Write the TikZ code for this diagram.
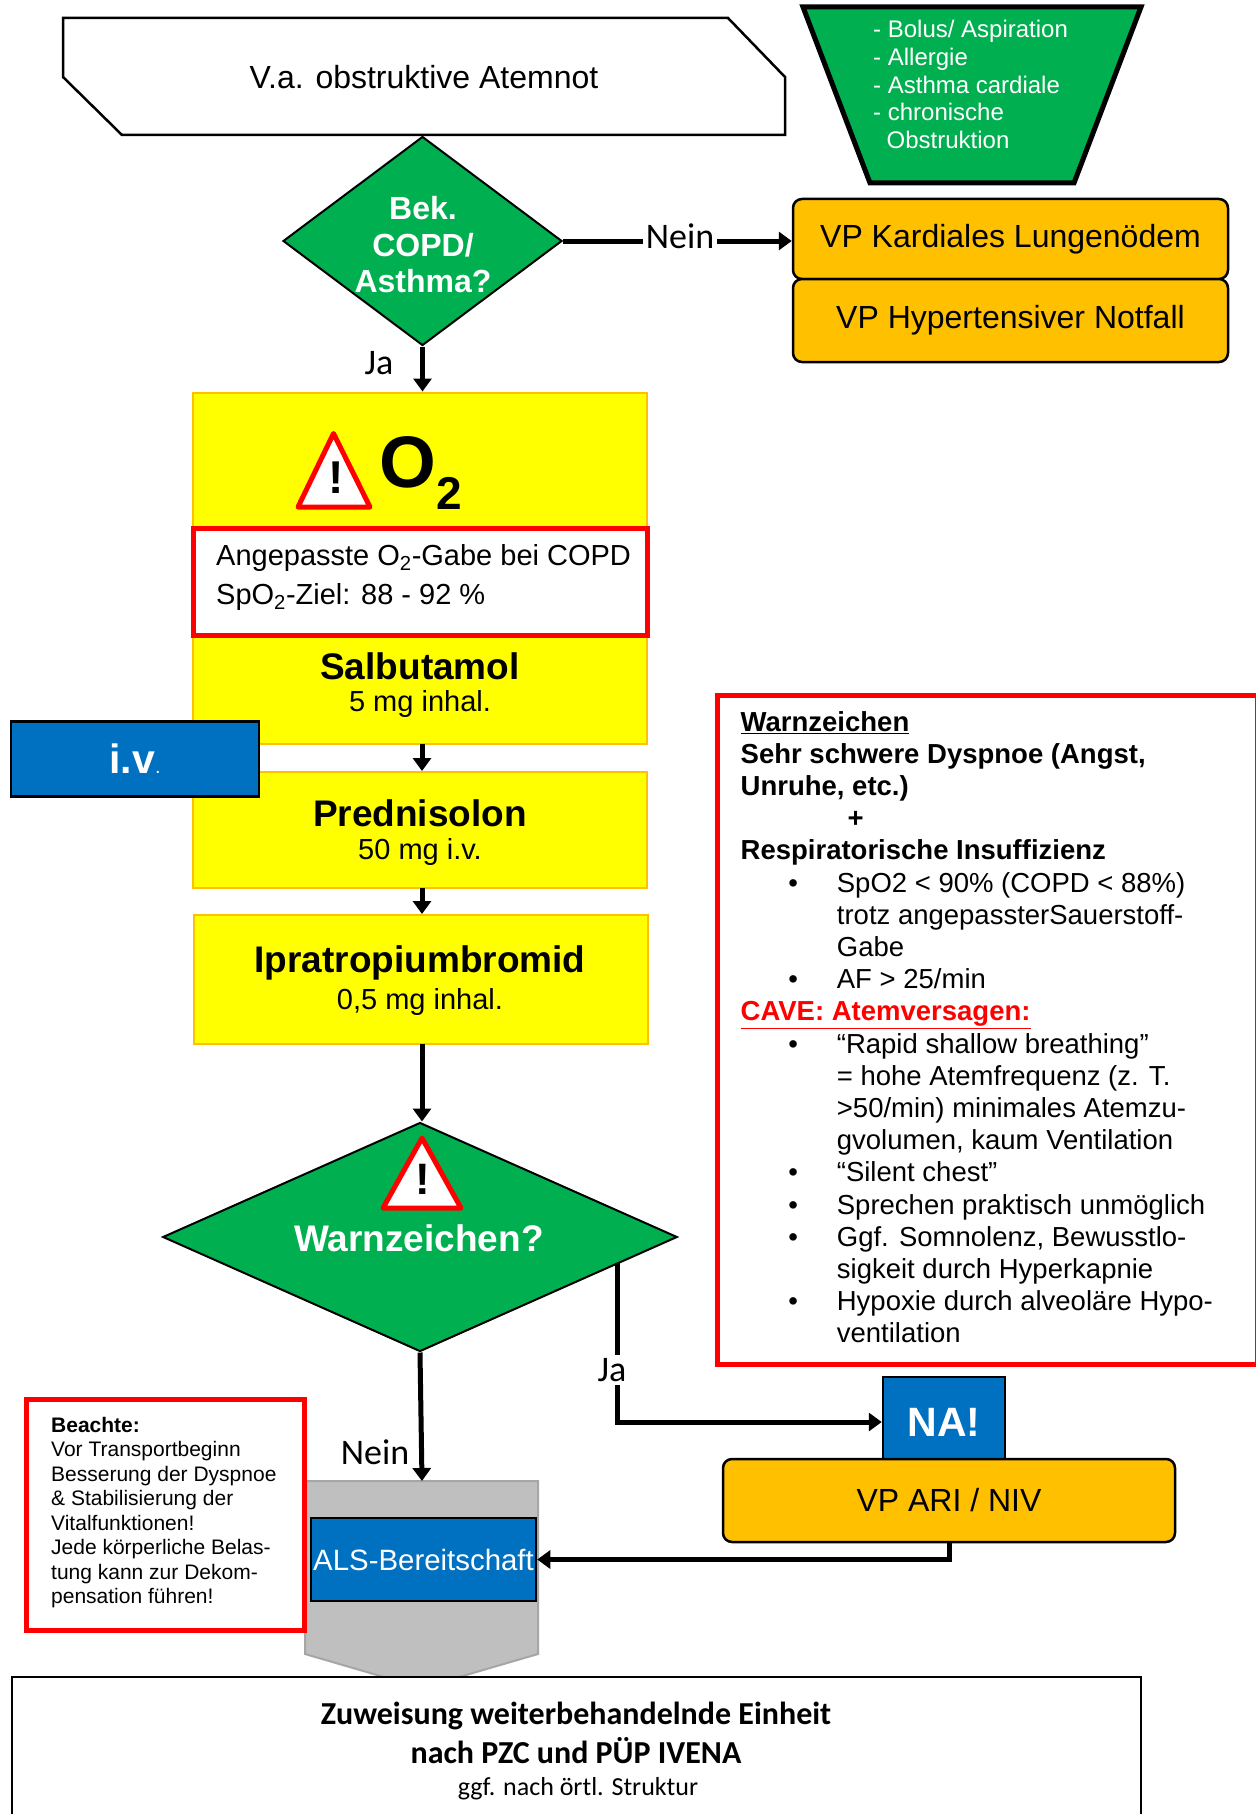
\documentclass[tikz,border=0pt]{standalone}
\usepackage{fontspec}
\setmainfont{Liberation Sans}
\newfontfamily\calfont{Carlito}
\usetikzlibrary{arrows.meta,shapes.geometric}
\definecolor{dgreen}{HTML}{00B050}
\definecolor{dorange}{HTML}{FFC000}
\definecolor{dyellow}{HTML}{FFFF00}
\definecolor{dblue}{HTML}{0070C0}
\definecolor{dred}{HTML}{FF0000}
\definecolor{dgrey}{HTML}{BFBFBF}
\definecolor{dgreyline}{HTML}{A6A6A6}
\newcommand{\pxfont}[2]{\fontsize{#1}{#2}\selectfont}
\newcommand{\wbul}{\hspace*{47.7pt}\makebox[48.5pt][l]{\textbullet}}
\newcommand{\wind}{\hspace*{96.2pt}}
\begin{document}
\begin{tikzpicture}[x=1pt,y=-1pt]
    \tikzstyle{every node}+=[inner sep=0pt]
    \tikzstyle{decision}=[diamond,draw=black,line width=2pt,fill=dgreen]
    \tikzstyle{vpbox}=[draw=black,line width=2.5pt,fill=dorange,rounded corners=9pt,font=\pxfont{32}{38}]
    \tikzstyle{drugbox}=[draw=dorange,line width=2pt,fill=dyellow]
    \tikzstyle{bluebox}=[draw=black,line width=2.5pt,fill=dblue,text=white]
    \tikzstyle{drugname}=[font=\bfseries\pxfont{37}{42}]
    \tikzstyle{drugdose}=[font=\pxfont{29}{34}]
    \tikzstyle{redbox}=[draw=dred,line width=5pt,fill=white]
    \tikzstyle{branchlabel}=[fill=white,font=\calfont\pxfont{36}{42},inner sep=3pt]
    \tikzstyle{flow}=[draw=black,line width=5pt,-{Triangle[length=13pt,width=18pt]}]
    \tikzstyle{warnsign}=[draw=dred,fill=white,line width=5pt,line join=round]
    \useasboundingbox (0,0) rectangle (1255,1814);
    \draw [black,line width=2.5pt,fill=white] (63,18) -- (728,18) -- (785,77) -- (785,135) -- (122,135) -- (63,77) -- cycle;
    \node [font=\pxfont{32}{38}] (atemnot) at (424,77) {V.a. obstruktive Atemnot};
    \draw [black,line width=5pt,fill=dgreen] (803,7) -- (1141,7) -- (1074,183) -- (870,183) -- cycle;
    \node [anchor=north west,align=left,text=white,font=\pxfont{24}{27.8}] (diffdiag) at (873,20) {- Bolus/ Aspiration\\- Allergie\\- Asthma cardiale\\- chronische\\\hspace*{13.5pt}Obstruktion};
    \node [decision,minimum width=279pt,minimum height=209pt] (bek) at (422.5,241) {};
    \node [align=center,text=white,font=\bfseries\pxfont{32}{36.5}] (bektext) at (423,245) {Bek.\\COPD/\\Asthma?};
    \node [vpbox,minimum width=435pt,minimum height=80pt] (kardial) at (1010.5,239) {VP Kardiales Lungenödem};
    \node [vpbox,minimum width=435pt,minimum height=83pt] (hyper) at (1010.5,320.5) {VP Hypertensiver Notfall};
    \node [drugbox,minimum width=454pt,minimum height=351.5pt] (salb) at (420,568.25) {};
    \draw [warnsign] (298,507) -- (333.5,433.5) -- (370,507) -- cycle;
    \node [font=\bfseries\pxfont{46}{46}] (warnmarka) at (336,478) {!};
    \node [anchor=base west,font=\bfseries\pxfont{73}{73}] (oxy) at (379,487) {O};
    \node [anchor=base west,font=\bfseries\pxfont{46}{46}] (oxytwo) at (436,509) {2};
    \node [redbox,minimum width=454pt,minimum height=107pt] (ziel) at (420,581.5) {};
    \node [anchor=north west,align=left,font=\pxfont{29}{39}] (zieltext) at (216,544) {Angepasste O\textsubscript{2}-Gabe bei COPD\\SpO\textsubscript{2}-Ziel: 88 - 92 \%};
    \node [drugname] (salbname) at (420,666) {Salbutamol};
    \node [drugdose] (salbdose) at (420,704) {5 mg inhal.};
    \node [drugbox,minimum width=454pt,minimum height=116.5pt] (pred) at (420,829.75) {};
    \node [drugname] (predname) at (420,813) {Prednisolon};
    \node [drugdose] (preddose) at (420,852) {50 mg i.v.};
    \node [drugbox,minimum width=454pt,minimum height=129pt] (ipra) at (420.5,979.5) {};
    \node [drugname] (ipraname) at (420,962.5) {Ipratropiumbromid};
    \node [drugdose] (ipradose) at (420,1002) {0,5 mg inhal.};
    \node [bluebox,minimum width=248pt,minimum height=75pt] (iv) at (135,759) {\bfseries\pxfont{41}{46}i.v\mdseries\pxfont{20}{46}.};
    \node [decision,minimum width=514.5pt,minimum height=229pt] (warn) at (420,1237) {};
    \draw [warnsign] (383,1208) -- (422,1138) -- (461,1208) -- cycle;
    \node [font=\bfseries\pxfont{44}{44}] (warnmarkb) at (423,1179) {!};
    \node [text=white,font=\bfseries\pxfont{37}{42}] (warntext) at (419,1238) {Warnzeichen?};
    \draw [draw=dgreyline,line width=2pt,fill=dgrey] (305,1481) -- (538,1481) -- (538,1654) -- (421.5,1688) -- (305,1654) -- cycle;
    \coordinate (alstop) at (422,1481);
    \node [bluebox,minimum width=225pt,minimum height=83pt,font=\pxfont{29.4}{34}] (als) at (423.5,1559.5) {ALS-Bereitschaft};
    \node [bluebox,minimum width=122pt,minimum height=90pt,font=\bfseries\pxfont{41}{46}] (na) at (944,1422) {NA!};
    \node [vpbox,minimum width=452pt,minimum height=83pt] (ari) at (949,1500.5) {VP ARI / NIV};
    \node [redbox,minimum width=278pt,minimum height=231pt] (beachte) at (165,1514.5) {};
    \node [anchor=north west,align=left,font=\pxfont{21}{24.5}] (beachtetext) at (51,1417) {\textbf{Beachte:}\\Vor Transportbeginn\\Besserung der Dyspnoe\\\& Stabilisierung der\\Vitalfunktionen!\\Jede körperliche Belas-\\tung kann zur Dekom-\\pensation führen!};
    \draw [black,line width=2pt,fill=white] (12,1825) -- (12,1677) -- (1141,1677) -- (1141,1825);
    \node [align=center,font=\calfont\bfseries\pxfont{32}{39}] (zuweisung) at (576,1733) {Zuweisung weiterbehandelnde Einheit\\nach PZC und PÜP IVENA};
    \node [font=\calfont\pxfont{26}{30}] (struktur) at (578,1789) {ggf. nach örtl. Struktur};
    \node [redbox,minimum width=540pt,minimum height=669pt] (zeichen) at (987,1030) {};
    \node [anchor=north west,align=left,font=\pxfont{27.5}{32.2}] (zeichentext) at (740.5,711) {\textbf{\underline{Warnzeichen}}\\\textbf{Sehr schwere Dyspnoe (Angst,}\\\textbf{Unruhe, etc.)}\\\textbf{\hspace*{107pt}+}\\\textbf{Respiratorische Insuffizienz}\\\wbul SpO2 < 90\% (COPD < 88\%)\\\wind trotz angepassterSauerstoff-\\\wind Gabe\\\wbul AF > 25/min\\\textcolor{dred}{\textbf{\underline{CAVE: Atemversagen:}}}\\\wbul “Rapid shallow breathing”\\\wind = hohe Atemfrequenz (z. T.\\\wind >50/min) minimales Atemzu-\\\wind gvolumen, kaum Ventilation\\\wbul “Silent chest”\\\wbul Sprechen praktisch unmöglich\\\wbul Ggf. Somnolenz, Bewusstlo-\\\wind sigkeit durch Hyperkapnie\\\wbul Hypoxie durch alveoläre Hypo-\\\wind ventilation};
    \draw [flow] (bek.east) -- (kardial.west |- bek.east);
    \node [branchlabel] (neinoben) at (680,236) {Nein};
    \draw [flow] (bek.south) -- (bek.south |- salb.north);
    \node [branchlabel,fill=none] (jaoben) at (379,363) {Ja};
    \draw [flow] (422,744) -- (422,771);
    \draw [flow] (422,888) -- (422,914);
    \draw [flow] (422,1044) -- (warn.north -| 422,1044);
    \draw [flow] (warn.south) -- (alstop);
    \node [branchlabel,fill=none] (neinunten) at (375,1452) {Nein};
    \coordinate (warnja) at (617,1263);
    \draw [flow] (warnja) |- (na.west);
    \node [branchlabel] (jaunten) at (612,1370) {Ja};
    \draw [flow] (ari.south) |- (als.east);
\end{tikzpicture}
\end{document}
